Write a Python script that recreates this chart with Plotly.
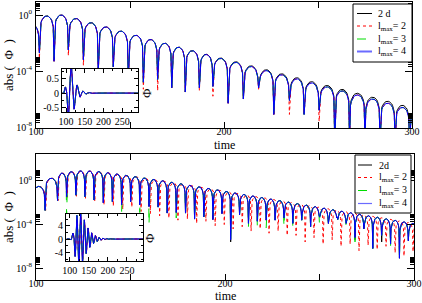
import numpy as np
import plotly.graph_objects as go

# ---------------- values ----------------
# Top panel: zero-crossing times, log10 of each lobe's peak |Phi|, log10 |Phi| at each dip
top_zeros = [88.0, 94.0, 101.8, 109.6, 117.2, 125.2, 133.1, 141.1, 149.1, 157.1, 164.7, 172.2,
             179.4, 186.9, 194.1, 202.2, 210.3, 218.4, 226.5, 234.8, 242.6, 250.6, 258.9, 266.8,
             275.0, 283.0, 291.0, 298.7, 306.5]
top_peak_4 = [-1.7, -0.67, -0.07, 0.0, -0.25, -0.55, -0.85, -1.15, -1.45, -1.75, -2.02, -2.3,
              -2.55, -2.82, -3.1, -3.38, -3.68, -3.97, -4.27, -4.56, -4.85, -5.13, -5.42, -5.71,
              -6.0, -6.3, -6.6, -6.9]
top_peak_2d = [-1.7, -0.67, -0.07, 0.0, -0.25, -0.55, -0.85, -1.15, -1.45, -1.75, -2.02, -2.3,
               -2.55, -2.80, -3.07, -3.34, -3.63, -3.91, -4.20, -4.48, -4.76, -5.03, -5.31, -5.59,
               -5.87, -6.16, -6.45, -6.74]
top_dip_4 = [-3.0, -3.0, -2.7, -3.3, -2.5, -3.2, -4.1, -3.7, -4.5, -4.8, -4.6, -5.2, -5.5, -5.2,
             -5.1, -6.3, -6.0, -5.2, -7.1, -6.1, -7.1, -6.8, -9, -9, -9, -9, -9, -9, -9]
top_dip_2 = [-3.0, -3.0, -3.1, -3.3, -2.9, -3.6, -4.1, -3.7, -4.6, -5.3, -5.4, -5.2, -5.5, -5.4,
             -5.8, -6.3, -6.0, -5.3, -7.2, -7.1, -7.1, -7.6, -9, -9, -9, -9, -9, -9, -9]

# Bottom panel
bot_zeros = [92.0, 98.2, 104.8, 111.4, 116.2, 121.1, 125.9, 130.7, 135.6, 140.4, 145.3, 150.1,
             154.9, 159.8, 164.6, 169.4, 174.2, 179.1, 183.9, 188.8, 193.6, 198.4, 203.0, 207.7,
             212.4, 217.1, 221.8, 226.5, 231.2, 235.9, 240.6, 245.3, 250.0, 254.7, 259.4, 264.1,
             268.8, 273.5, 278.2, 282.9, 287.6, 292.3, 297.0, 301.7]
bot_zeros_2 = [92.0, 98.2, 105.1, 111.7, 116.5, 121.4, 126.2, 131.1, 136.0, 140.9, 145.9, 150.7,
               155.6, 160.5, 165.4, 170.3, 175.1, 180.1, 185.0, 189.9, 194.8, 199.6, 204.3, 209.1,
               213.8, 218.6, 223.3, 228.1, 232.9, 237.6, 242.4, 247.1, 251.9, 256.7, 261.4, 266.2,
               270.9, 275.7, 280.5, 285.2, 290.0, 294.7, 299.5, 304.2]
bot_peak_4 = [-1.0, -0.5, 0.25, 0.72, 0.85, 0.93, 0.92, 0.86, 0.76, 0.64, 0.52, 0.4, 0.27, 0.14,
              0.02, -0.12, -0.26, -0.40, -0.54, -0.68, -0.82, -0.96, -1.10, -1.24, -1.38, -1.52,
              -1.66, -1.80, -1.94, -2.08, -2.22, -2.36, -2.50, -2.64, -2.78, -2.92, -3.06, -3.20,
              -3.34, -3.48, -3.62, -3.76, -3.90]
bot_peak_2 = [-1.0, -0.5, 0.25, 0.72, 0.85, 0.92, 0.9, 0.84, 0.73, 0.61, 0.49, 0.37, 0.24, 0.11,
              -0.02, -0.16, -0.3, -0.44, -0.58, -0.72, -0.86, -1.0, -1.14, -1.28, -1.42, -1.56,
              -1.7, -1.84, -1.98, -2.12, -2.26, -2.4, -2.54, -2.68, -2.82, -2.96, -3.1, -3.24,
              -3.38, -3.52, -3.66, -3.8, -3.94]
bot_dip_4 = [-3.0, -3.0, -2.7, -1.8, -1.45, -1.3, -1.45, -1.75, -2.0, -1.9, -2.2, -1.9, -2.2,
             -2.35, -2.4, -2.95, -2.9, -2.95, -3.5, -3.3, -3.55, -3.0, -5.4, -3.1, -3.9, -3.7,
             -3.6, -3.6, -3.4, -3.9, -3.6, -4.2, -3.3, -3.9, -3.3, -3.9, -5.2, -4.4, -6.2, -5.0,
             -5.8, -7.1, -5.5, -5.0]
bot_dip_3 = [-3.0, -3.0, -2.9, -1.8, -3.1, -1.3, -1.45, -1.75, -2.0, -1.9, -2.8, -1.9, -2.9,
             -4.0, -2.4, -2.95, -3.4, -2.95, -3.5, -3.3, -3.55, -3.0, -5.4, -3.1, -4.2, -4.2,
             -4.3, -3.6, -4.2, -4.4, -3.6, -4.2, -4.0, -3.9, -3.3, -4.3, -5.6, -4.4, -6.2, -5.0,
             -6.0, -7.1, -5.5, -5.0]
bot_dip_2d = [-3.0, -3.0, -2.7, -1.8, -1.45, -1.3, -1.45, -1.75, -2.0, -1.9, -2.2, -1.9, -2.2,
              -2.35, -2.4, -2.95, -2.9, -2.95, -3.5, -3.3, -3.55, -3.0, -5.6, -3.1, -3.9, -3.7,
              -3.6, -3.6, -3.4, -3.9, -3.6, -4.2, -3.3, -3.9, -3.3, -3.9, -5.4, -4.4, -6.2, -5.6,
              -5.8, -7.1, -5.5, -5.0]
bot_dip_2 = [-3.0, -3.0, -2.7, -1.8, -1.5, -1.4, -1.6, -1.9, -2.2, -2.3, -2.6, -2.4, -2.8, -3.0,
             -3.2, -3.4, -3.6, -3.5, -3.9, -3.7, -4.1, -4.0, -4.4, -4.2, -4.6, -4.4, -4.8, -4.6,
             -5.0, -5.0, -5.6, -5.2, -5.8, -5.4, -6.0, -5.8, -6.4, -5.9, -6.3, -6.0, -6.6, -6.9,
             -6.5, -6.0]

names_top = ["2 d", "l<sub>max</sub>= 2", "l<sub>max</sub>= 3", "l<sub>max</sub>= 4"]
names_bot = ["2d", "l<sub>max</sub>= 2", "l<sub>max</sub>= 3", "l<sub>max</sub>= 4"]
y_tick_vals = [1e-8, 1e-4, 1.0]
y_tick_text = ["10<sup>-8</sup>", "10<sup>-4</sup>", "10<sup>0</sup>"]
x_tick_vals = [100, 200, 300]


def signal(zeros, peaks, dips, sign0, n=18):
    """Signed Phi(t): a half-wave between consecutive read zeros, scaled to the read peak."""
    t, v = [], []
    s = sign0
    for i in range(len(peaks)):
        a, b = zeros[i], zeros[i + 1]
        t.append(a)
        v.append(s * 10 ** dips[i])
        for k in range(1, n):
            f = k / n
            t.append(a + (b - a) * f)
            v.append(s * 10 ** peaks[i] * np.sin(np.pi * f))
        s = -s
    t.append(zeros[-1])
    v.append(s * 10 ** dips[-1])
    return np.array(t), np.array(v)


styles = [dict(color="black", width=1.0, dash="solid"),
          dict(color="red", width=1.0, dash="dot"),
          dict(color="#00dd00", width=1.0, dash="dash"),
          dict(color="blue", width=1.0, dash="solid")]

top_series = [signal(top_zeros, top_peak_2d, top_dip_4, -1),
              signal(top_zeros, top_peak_4, top_dip_2, -1),
              signal(top_zeros, top_peak_4, top_dip_4, -1),
              signal(top_zeros, top_peak_4, top_dip_4, -1)]
bot_series = [signal(bot_zeros, bot_peak_4, bot_dip_2d, 1),
              signal(bot_zeros_2, bot_peak_2, bot_dip_2, 1),
              signal(bot_zeros, bot_peak_4, bot_dip_3, 1),
              signal(bot_zeros, bot_peak_4, bot_dip_4, 1)]

fig = go.Figure()
for (t, v), st, nm in zip(top_series, styles, names_top):
    fig.add_trace(go.Scatter(x=t, y=np.abs(v), mode="lines", line=st, name=nm,
                             xaxis="x", yaxis="y", showlegend=False, hoverinfo="skip"))
for (t, v), st, nm in zip(bot_series, styles, names_bot):
    fig.add_trace(go.Scatter(x=t, y=np.abs(v), mode="lines", line=st, name=nm,
                             xaxis="x2", yaxis="y2", showlegend=False, hoverinfo="skip"))
for (t, v), st in zip(top_series, styles):
    fig.add_trace(go.Scatter(x=t, y=v, mode="lines", line=st, showlegend=False,
                             xaxis="x3", yaxis="y3", hoverinfo="skip"))
for (t, v), st in zip(bot_series, styles):
    fig.add_trace(go.Scatter(x=t, y=v, mode="lines", line=st, showlegend=False,
                             xaxis="x4", yaxis="y4", hoverinfo="skip"))

W, H = 422, 303
SERIF = "Liberation Serif"
tickfont = dict(family=SERIF, size=10, color="black")


def px_x(a, b):
    return [a / W, b / W]


def px_y(top, bottom):
    return [1 - bottom / H, 1 - top / H]


common = dict(showline=True, linecolor="black", linewidth=1, mirror="ticks", ticks="inside",
              tickcolor="black", showgrid=False, zeroline=False, tickfont=tickfont,
              ticklabeloverflow="allow", automargin=False)

minor_log = [m * 10.0 ** k for k in (0, -4, -8) for m in range(2, 10)]

fig.update_layout(
    width=W, height=H, margin=dict(l=0, r=0, t=0, b=0, autoexpand=False),
    paper_bgcolor="white", plot_bgcolor="white",
    xaxis=dict(domain=px_x(36, 412), range=[100, 300], anchor="y", tickvals=x_tick_vals,
               ticklen=6, ticklabelstandoff=-6,
               minor=dict(dtick=50, ticklen=6, ticks="inside", tickcolor="black"), **common),
    yaxis=dict(domain=px_y(2, 128), type="log", range=[-8.07, 0.93], anchor="x",
               tickvals=y_tick_vals, ticktext=y_tick_text, ticklen=7, ticklabelstandoff=1,
               minor=dict(tickvals=minor_log, ticklen=4, ticks="inside", tickcolor="black"),
               **common),
    xaxis2=dict(domain=px_x(36, 414), range=[100, 300], anchor="y2", tickvals=x_tick_vals,
                ticklen=6, ticklabelstandoff=-6,
                minor=dict(dtick=50, ticklen=6, ticks="inside", tickcolor="black"), **common),
    yaxis2=dict(domain=px_y(154, 280), type="log", range=[-9.1, 2.48], anchor="x2",
                tickvals=y_tick_vals, ticktext=y_tick_text, ticklen=7, ticklabelstandoff=1,
                minor=dict(tickvals=minor_log, ticklen=4, ticks="inside", tickcolor="black"),
                **common),
    xaxis3=dict(domain=px_x(62, 138), range=[89, 292], anchor="y3", tickvals=[100, 150, 200, 250],
                ticklen=4, minor=dict(dtick=25, ticklen=2, ticks="inside", tickcolor="black"),
                **common),
    yaxis3=dict(domain=px_y(69, 112), range=[-0.66, 0.84], anchor="x3",
                tickvals=[-0.5, 0, 0.5], ticktext=["-0.5", "0", "0.5"], ticklen=4,
                minor=dict(dtick=0.25, ticklen=2, ticks="inside", tickcolor="black"), **common),
    xaxis4=dict(domain=px_x(66, 143), range=[90, 292], anchor="y4", tickvals=[100, 150, 200, 250],
                ticklen=4, minor=dict(dtick=25, ticklen=2, ticks="inside", tickcolor="black"),
                **common),
    yaxis4=dict(domain=px_y(214, 261), range=[-6.6, 7.5], anchor="x4",
                tickvals=[-4, 0, 4], ticktext=["-4", "0", "4"], ticklen=4,
                minor=dict(dtick=2, ticklen=2, ticks="inside", tickcolor="black"), **common),
)

annotations = [
    dict(text="abs (  Φ  )", x=8 / W, y=1 - 65 / H, textangle=-90, size=13),
    dict(text="abs (  Φ  )", x=8 / W, y=1 - 217 / H, textangle=-90, size=13),
    dict(text="time", x=224 / W, y=1 - 145 / H, size=12),
    dict(text="time", x=225 / W, y=1 - 296 / H, size=12),
    dict(text="Φ", x=146 / W, y=1 - 93 / H, textangle=-90, size=13),
    dict(text="Φ", x=149 / W, y=1 - 238 / H, textangle=-90, size=13),
]
for a in annotations:
    sz = a.pop("size")
    fig.add_annotation(xref="paper", yref="paper", showarrow=False, xanchor="center",
                       yanchor="middle", font=dict(family=SERIF, size=sz, color="black"), **a)


# ---------------- legends (boxed, as in the picture) ----------------
def legend_box(x0, x1, y0, y1, rows, sx0, sx1, tx, names, blue_w):
    fig.add_shape(type="rect", xref="paper", yref="paper", x0=x0 / W, x1=x1 / W,
                  y0=1 - y1 / H, y1=1 - y0 / H, line=dict(color="black", width=1),
                  fillcolor="white", layer="above")
    for ry, st, nm in zip(rows, styles, names):
        lw = blue_w if st["color"] == "blue" else st["width"]
        col = "#6b6bff" if st["color"] == "blue" else st["color"]
        fig.add_shape(type="line", xref="paper", yref="paper", x0=sx0 / W, x1=sx1 / W,
                      y0=1 - ry / H, y1=1 - ry / H, layer="above",
                      line=dict(color=col, width=lw, dash=st["dash"]))
        fig.add_annotation(xref="paper", yref="paper", x=tx / W, y=1 - ry / H, text=nm,
                           showarrow=False, xanchor="left", yanchor="middle",
                           font=dict(family=SERIF, size=10, color="black"))


legend_box(353, 412, 4, 62, [13.5, 26, 39, 51.5], 357, 372, 376, names_top, 2.0)
legend_box(355, 411, 155, 213, [165, 177.5, 190.5, 203.5], 358, 372, 377, names_bot, 1.2)

fig.write_html("out.html", config={"displayModeBar": False},
               post_script="document.body.style.margin='0';")
